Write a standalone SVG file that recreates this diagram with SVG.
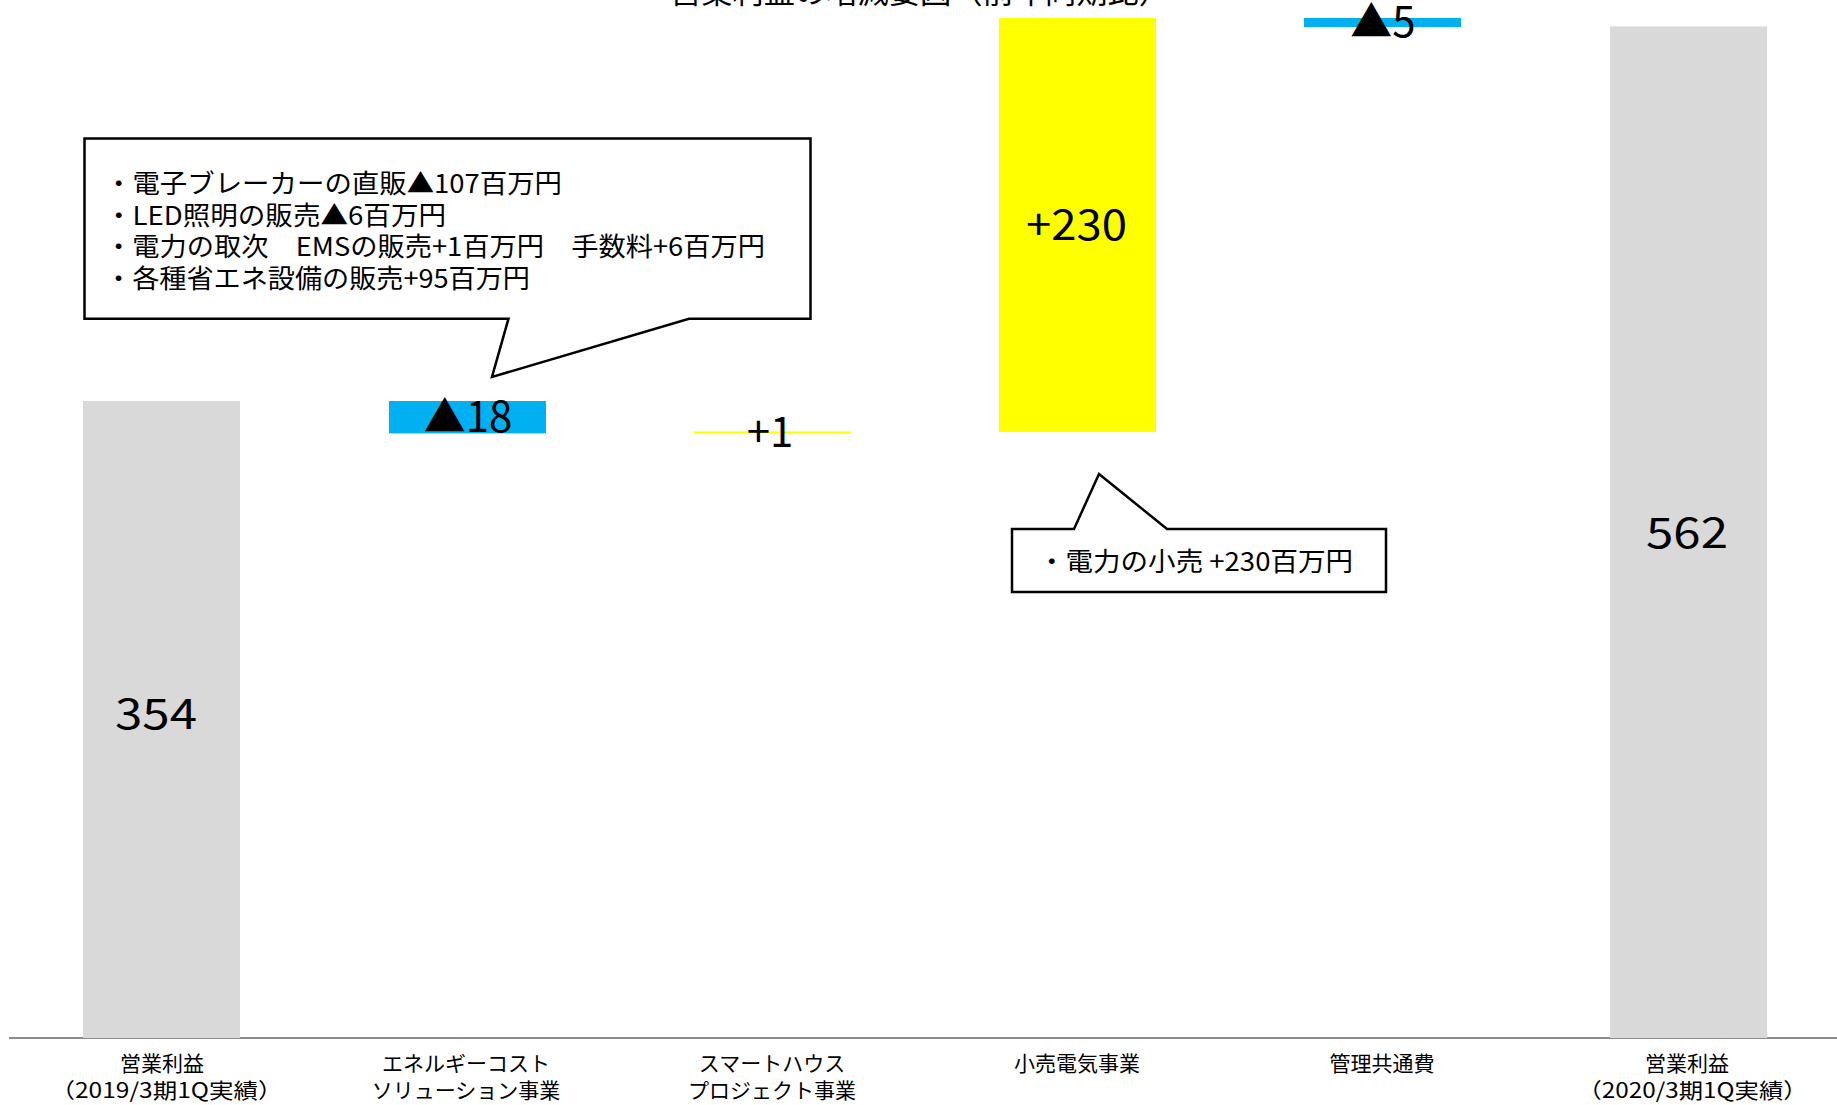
<svg xmlns="http://www.w3.org/2000/svg" width="1837" height="1105" viewBox="0 0 1837 1105">
<style>
  text { font-family: "Noto Sans CJK JP", "Noto Sans", sans-serif; fill: #000; }
  .gray { fill: #D9D9D9; }
  .blue { fill: #00B0F0; }
  .yellow { fill: #FFFF00; }
  .val { font-size: 42px; text-anchor: middle; }
  .vals { font-size: 42px; }
  .cat { font-size: 21px; text-anchor: middle; }
  .note { font-size: 26px; }
  .callout { fill: #fff; stroke: #000; stroke-width: 2.5; stroke-linejoin: miter; }
</style>
<rect width="1837" height="1105" fill="#fff"/>
<text id="title" x="670" y="3" font-size="31" textLength="500" lengthAdjust="spacingAndGlyphs">営業利益の増減要因（前年同期比）</text>

<g id="axis">
  <line x1="9" y1="1038" x2="1837" y2="1038" stroke="#8C8C8C" stroke-width="2"/>
</g>

<g id="connectors"></g>

<g id="bar-start">
  <rect class="gray" x="83" y="401" width="157" height="637"/>
  <text class="vals" x="115" y="729" textLength="82" lengthAdjust="spacingAndGlyphs">354</text>
  <text class="cat" x="162" y="1071">営業利益</text>
  <text class="cat" x="166.5" y="1098" textLength="232" lengthAdjust="spacingAndGlyphs">（2019/3期1Q実績）</text>
</g>

<g id="bar-energy">
  <rect class="blue" x="389" y="401" width="157" height="32.4"/>
  <text class="val" x="468" y="432">▲18</text>
  <text class="cat" x="466" y="1071">エネルギーコスト</text>
  <text class="cat" x="466" y="1098">ソリューション事業</text>
</g>

<g id="bar-smarthouse">
  <rect class="yellow" x="694" y="431.4" width="157" height="1.8"/>
  <text class="val" x="770" y="447">+1</text>
  <text class="cat" x="772" y="1071">スマートハウス</text>
  <text class="cat" x="772" y="1098">プロジェクト事業</text>
</g>

<g id="bar-retail">
  <rect class="yellow" x="999" y="18" width="157" height="414"/>
  <text class="vals" x="1026" y="240" textLength="101" lengthAdjust="spacingAndGlyphs">+230</text>
  <text class="cat" x="1077" y="1071">小売電気事業</text>
</g>

<g id="bar-common">
  <rect class="blue" x="1304" y="18" width="157" height="9"/>
  <text class="val" x="1383" y="37">▲5</text>
  <text class="cat" x="1382" y="1071">管理共通費</text>
</g>

<g id="bar-end">
  <rect class="gray" x="1610" y="26.4" width="157" height="1011.6"/>
  <text class="vals" x="1646" y="548" textLength="82" lengthAdjust="spacingAndGlyphs">562</text>
  <text class="cat" x="1687" y="1071">営業利益</text>
  <text class="cat" x="1692.5" y="1098" textLength="230" lengthAdjust="spacingAndGlyphs">（2020/3期1Q実績）</text>
</g>

<g id="callout-energy">
  <path class="callout" d="M84.5,138.5 H810.5 V318.7 H689 L492,377 L508.5,318.7 H84.5 Z"/>
  <text class="note" x="105" y="193" textLength="457" lengthAdjust="spacingAndGlyphs">・電子ブレーカーの直販▲107百万円</text>
  <text class="note" x="105" y="225" textLength="341" lengthAdjust="spacingAndGlyphs">・LED照明の販売▲6百万円</text>
  <text class="note" x="105" y="256" textLength="660" lengthAdjust="spacingAndGlyphs">・電力の取次　EMSの販売+1百万円　手数料+6百万円</text>
  <text class="note" x="105" y="288" textLength="425" lengthAdjust="spacingAndGlyphs">・各種省エネ設備の販売+95百万円</text>
</g>

<g id="callout-retail">
  <path class="callout" d="M1012,529 H1074 L1099,474 L1167,529 H1386 V592 H1012 Z"/>
  <text class="note" x="1038" y="571" font-size="24" textLength="315" lengthAdjust="spacingAndGlyphs">・電力の小売 +230百万円</text>
</g>
</svg>
